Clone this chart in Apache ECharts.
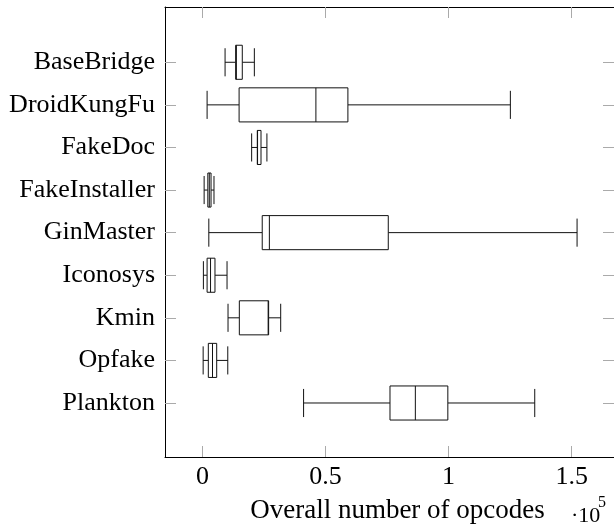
<!DOCTYPE html>
<html>
<head>
<meta charset="utf-8">
<script src="https://cdn.jsdelivr.net/npm/echarts@6/dist/echarts.min.js"></script>
<style>html,body{margin:0;padding:0;background:#fff;}#c{width:614px;height:532px;}</style>
</head>
<body>
<div id="c"></div>
<script>
const categories = ['BaseBridge','DroidKungFu','FakeDoc','FakeInstaller','GinMaster','Iconosys','Kmin','Opfake','Plankton'];
const mins    = [0.092, 0.019, 0.200, 0.007, 0.026, 0.004, 0.104, 0.003, 0.411];
const q1s     = [0.135, 0.149, 0.223, 0.022, 0.243, 0.019, 0.150, 0.024, 0.762];
const medians = [0.138, 0.461, 0.224, 0.028, 0.272, 0.033, 0.267, 0.041, 0.865];
const q3s     = [0.162, 0.591, 0.238, 0.035, 0.755, 0.051, 0.269, 0.058, 0.997];
const maxs    = [0.211, 1.251, 0.262, 0.047, 1.522, 0.100, 0.318, 0.103, 1.350];
const xTicks  = [0, 0.5, 1, 1.5];
const xTickLabels = ['0', '0.5', '1', '1.5'];

const font = 'Liberation Serif';
const data = categories.map((c, i) => [i, mins[i], q1s[i], medians[i], q3s[i], maxs[i]]);
const yIdx = categories.map((c, i) => i);

function renderItem(params, api) {
  const yv = api.value(0);
  const p = [1,2,3,4,5].map(k => api.coord([api.value(k), yv]));
  const cy = p[0][1];
  const unit = api.size([0, 1])[1];
  const bh = unit * 0.40, ch = unit * 0.33;
  const st = {stroke: '#111', lineWidth: 1, fill: null};
  return {
    type: 'group',
    children: [
      {type: 'line', shape: {x1: p[0][0], y1: cy, x2: p[1][0], y2: cy}, style: st},
      {type: 'line', shape: {x1: p[3][0], y1: cy, x2: p[4][0], y2: cy}, style: st},
      {type: 'line', shape: {x1: p[0][0], y1: cy - ch, x2: p[0][0], y2: cy + ch}, style: st},
      {type: 'line', shape: {x1: p[4][0], y1: cy - ch, x2: p[4][0], y2: cy + ch}, style: st},
      {type: 'rect', shape: {x: p[1][0], y: cy - bh, width: p[3][0] - p[1][0], height: 2 * bh}, style: {stroke: '#111', lineWidth: 1, fill: '#fff'}},
      {type: 'line', shape: {x1: p[2][0], y1: cy - bh, x2: p[2][0], y2: cy + bh}, style: st}
    ]
  };
}

const chart = echarts.init(document.getElementById('c'), null, {renderer: 'canvas'});
const xmin = -0.152, xmax = 1.672, ymin = -1.298, ymax = 9.268;
const tickStyle = {show: true, inside: true, length: 11, lineStyle: {color: '#aaa', width: 1}};
chart.setOption({
  animation: false,
  grid: {left: 165, top: 7, width: 450, height: 450, containLabel: false},
  xAxis: [
    {type: 'value', position: 'bottom', min: xmin, max: xmax,
     axisLine: {show: true, onZero: false, lineStyle: {color: '#000', width: 1}},
     splitLine: {show: false},
     axisTick: Object.assign({customValues: xTicks}, tickStyle),
     axisLabel: {customValues: xTicks, formatter: v => xTickLabels[xTicks.indexOf(v)] ?? '', fontFamily: font, fontSize: 26, color: '#000', margin: 7},
     name: 'Overall number of opcodes', nameLocation: 'middle', nameGap: 40,
     nameTextStyle: {fontFamily: font, fontSize: 27, color: '#000', padding: [0, 0, 0, 16]}},
    {type: 'value', position: 'top', min: xmin, max: xmax,
     axisLine: {show: true, onZero: false, lineStyle: {color: '#000', width: 1}},
     splitLine: {show: false},
     axisTick: Object.assign({customValues: xTicks}, tickStyle),
     axisLabel: {show: false}}
  ],
  yAxis: [
    {type: 'value', position: 'left', inverse: true, min: ymin, max: ymax,
     axisLine: {show: true, onZero: false, lineStyle: {color: '#000', width: 1}},
     splitLine: {show: false},
     axisTick: Object.assign({customValues: yIdx}, tickStyle),
     axisLabel: {customValues: yIdx, formatter: v => categories[v] ?? '', fontFamily: font, fontSize: 26, color: '#000', margin: 10}},
    {type: 'value', position: 'right', inverse: true, min: ymin, max: ymax,
     axisLine: {show: true, onZero: false, lineStyle: {color: '#000', width: 1}},
     splitLine: {show: false},
     axisTick: Object.assign({customValues: yIdx}, tickStyle),
     axisLabel: {show: false}}
  ],
  graphic: [
    {type: 'text', left: 571, top: 505, style: {text: '·10', fontFamily: font, fontSize: 22, fill: '#000'}},
    {type: 'text', left: 598, top: 495, style: {text: '5', fontFamily: font, fontSize: 16, fill: '#000'}}
  ],
  series: [{
    type: 'custom', renderItem: renderItem, xAxisIndex: 0, yAxisIndex: 0,
    encode: {x: [1,2,3,4,5], y: 0}, data: data
  }]
});
</script>
</body>
</html>
